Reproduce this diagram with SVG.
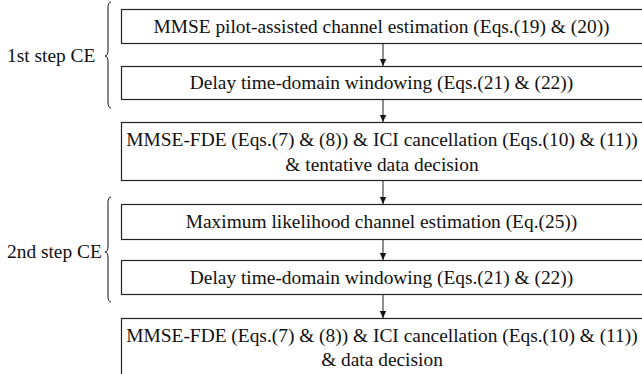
<svg xmlns="http://www.w3.org/2000/svg" width="642" height="374" viewBox="0 0 642 374">
<style>
.box{fill:#fff;stroke:#222;stroke-width:1.2}
.t{font-family:"Liberation Serif","Times New Roman",serif;font-size:19.4px;fill:#111;text-anchor:middle}
.lbl{font-family:"Liberation Serif","Times New Roman",serif;font-size:19.4px;fill:#111;text-anchor:start}
.con{stroke:#333;stroke-width:1.1;fill:none}
.brace{stroke:#111;stroke-width:1;fill:none}
</style>
<defs>
<marker id="ah" markerWidth="8" markerHeight="8" refX="7" refY="4" orient="auto" markerUnits="userSpaceOnUse">
<path d="M0,0.8 L7,4 L0,7.2 Z" fill="#111"/>
</marker>
</defs>
<rect width="642" height="374" fill="#fff"/>
<g id="connectors">
<line class="con" x1="383" y1="43.5" x2="383" y2="66" marker-end="url(#ah)"/>
<line class="con" x1="383" y1="99.5" x2="383" y2="122" marker-end="url(#ah)"/>
<line class="con" x1="383" y1="180.5" x2="383" y2="204" marker-end="url(#ah)"/>
<line class="con" x1="383" y1="239.5" x2="383" y2="260" marker-end="url(#ah)"/>
<line class="con" x1="383" y1="294.5" x2="383" y2="318" marker-end="url(#ah)"/>
</g>
<g id="step1">
<path class="brace" d="M111,2 Q108,2 108,8 L108,50 Q108,56 105,56 Q108,56 108,62 L108,102 Q108,108 111,108"/>
<text class="lbl" x="7" y="62">1st step CE</text>
</g>
<g id="step2">
<path class="brace" d="M111,197 Q108,197 108,203 L108,246 Q108,252 105,252 Q108,252 108,258 L108,296 Q108,302 111,302"/>
<text class="lbl" x="7" y="258">2nd step CE</text>
</g>
<g id="n1">
<rect class="box" x="121.5" y="9.5" width="530" height="34"/>
<text class="t" x="381.5" y="33">MMSE pilot-assisted channel estimation (Eqs.(19) &amp; (20))</text>
</g>
<g id="n2">
<rect class="box" x="121.5" y="66.5" width="530" height="33"/>
<text class="t" x="381.5" y="89">Delay time-domain windowing (Eqs.(21) &amp; (22))</text>
</g>
<g id="n3">
<rect class="box" x="121.5" y="122.5" width="530" height="58"/>
<text class="t" x="382" y="146">MMSE-FDE (Eqs.(7) &amp; (8)) &amp; ICI cancellation (Eqs.(10) &amp; (11))</text>
<text class="t" x="382" y="171">&amp; tentative data decision</text>
</g>
<g id="n4">
<rect class="box" x="121.5" y="204.5" width="530" height="35"/>
<text class="t" x="381.5" y="228">Maximum likelihood channel estimation (Eq.(25))</text>
</g>
<g id="n5">
<rect class="box" x="121.5" y="260.5" width="530" height="34"/>
<text class="t" x="381.5" y="284">Delay time-domain windowing (Eqs.(21) &amp; (22))</text>
</g>
<g id="n6">
<rect class="box" x="121.5" y="318.5" width="530" height="70"/>
<text class="t" x="382" y="342">MMSE-FDE (Eqs.(7) &amp; (8)) &amp; ICI cancellation (Eqs.(10) &amp; (11))</text>
<text class="t" x="382" y="366">&amp; data decision</text>
</g>
</svg>
